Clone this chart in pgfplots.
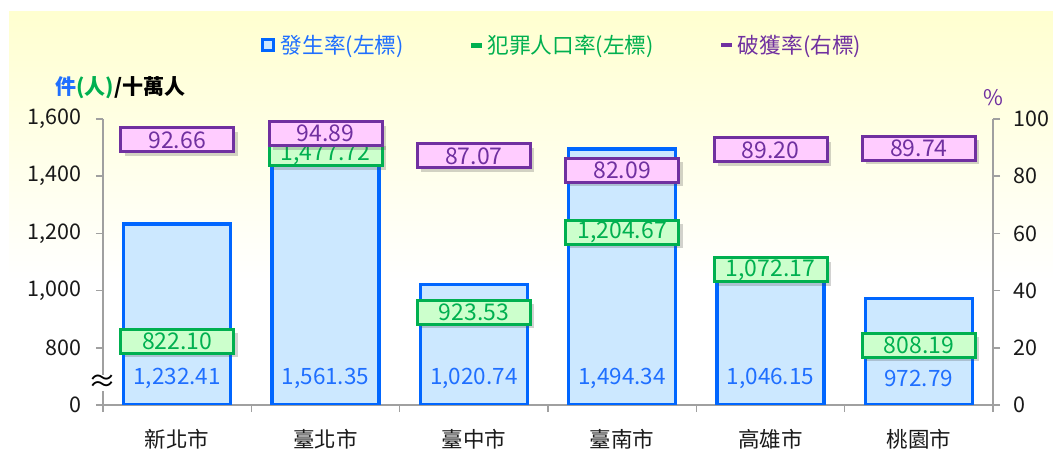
\documentclass[border=0pt]{standalone}
\usepackage{fontspec}
\setmainfont{Noto Sans CJK TC}
\usepackage{pgfplots}
\usepackage{pgfplotstable}
\pgfplotsset{compat=1.18}
\usetikzlibrary{shadows}
\definecolor{barblue}{HTML}{0066FF}
\definecolor{barfill}{HTML}{CCE8FF}
\definecolor{grn}{HTML}{00B050}
\definecolor{grnfill}{HTML}{CCFFCC}
\definecolor{pur}{HTML}{7030A0}
\definecolor{purfill}{HTML}{FFCCFF}
\definecolor{axgray}{HTML}{A0A0A0}
\definecolor{bgyellow}{HTML}{FFFFD0}
\definecolor{lblblue}{HTML}{1F6FFF}

\pgfplotstableread{
x rate crim clear lpos
0 1232.41 822.10 92.66 694
1 1561.35 1477.72 94.89 694
2 1020.74 923.53 87.07 694
3 1494.34 1204.67 82.09 694
4 1046.15 1072.17 89.20 694
5 972.79 808.19 89.74 694
}\data

\newcommand{\fs}{\fontsize{21.5bp}{25bp}\selectfont}
\pgfplotsset{
  numlbl/.style={
    nodes near coords={\pgfmathprintnumber[fixed, fixed zerofill, precision=2, 1000 sep={,}, assume math mode=true]{\pgfplotspointmeta}},
  },
  boxlbl/.style 2 args={
    every node near coord/.append style={anchor=center, draw=#1, fill=#2, line width=3bp,
      minimum width=113bp, minimum height=24bp, inner sep=0pt, text=#1,
      font=\fontsize{23bp}{24bp}\selectfont,
      drop shadow={shadow xshift=4bp, shadow yshift=-4bp, opacity=0.25, fill=black!70}},
  },
}

\begin{document}
\begin{tikzpicture}
\path[use as bounding box] (0,0) rectangle (1053bp,450bp);
\shade[top color=bgyellow, bottom color=white] (9bp,170bp) rectangle (1053bp,438bp);
\begin{axis}[
  at={(103bp,45bp)}, anchor=south west, scale only axis,
  width=890bp, height=286bp,
  xmin=-0.5, xmax=5.5, ymin=600, ymax=1600,
  axis x line*=bottom, axis y line*=left,
  axis line style={draw=axgray, line width=1.5bp},
  xtick={0,...,5},
  xticklabels={新北市,臺北市,臺中市,臺南市,高雄市,桃園市},
  major x tick style={draw=none},
  minor xtick={-0.5,0.5,...,5.5},
  ytick={600,800,1000,1200,1400,1600},
  yticklabels={0,800,{1,000},{1,200},{1,400},{1,600}},
  tick align=outside,
  major tick length=7bp, minor tick length=7bp,
  tick style={axgray, line width=1.5bp},
  tick label style={font=\fs, text=black!90},
  xticklabel style={yshift=-14bp},
  yticklabel style={xshift=-11bp},
]
\addplot[ybar, bar width=107bp, bar shift=0pt, draw=barblue, fill=barfill, line width=3.5bp]
  table[x=x, y=rate] {\data};
\addplot[draw=none, mark=none, numlbl, point meta=\thisrow{rate},
  every node near coord/.append style={anchor=center, text=lblblue, font=\fontsize{22.5bp}{24bp}\selectfont}]
  table[x=x, y=lpos] {\data};
\addplot[draw=none, mark=none, numlbl, point meta=\thisrow{crim}, boxlbl={grn}{grnfill}]
  table[x=x, y=crim] {\data};
\end{axis}
\begin{axis}[
  at={(103bp,45bp)}, anchor=south west, scale only axis,
  width=890bp, height=286bp,
  xmin=-0.5, xmax=5.5, ymin=0, ymax=100,
  axis x line=none, axis y line*=right,
  axis line style={draw=axgray, line width=1.5bp},
  ytick={0,20,40,60,80,100},
  yticklabels={0,20,40,60,80,100},
  tick align=outside,
  major tick length=7bp,
  tick style={axgray, line width=1.5bp},
  tick label style={font=\fs, text=black!90},
  yticklabel style={xshift=10bp},
  legend style={at={(0.516,1.259)}, anchor=center, draw=none, fill=none,
    font=\fontsize{21.7bp}{25bp}\selectfont, legend columns=3,
    /tikz/every even column/.append style={column sep=65bp},
    /tikz/every odd column/.append style={column sep=4bp}},
  legend cell align=left,
]
\addlegendimage{legend image code/.code={\draw[barblue, fill=barfill, line width=2.5bp] (0bp,-5.5bp) rectangle (11bp,5.5bp);}}
\addlegendimage{legend image code/.code={\fill[grn] (0bp,-2bp) rectangle (10bp,2bp);}}
\addplot[draw=none, mark=none, numlbl, point meta=\thisrow{clear}, boxlbl={pur}{purfill},
  legend image code/.code={\fill[pur] (0bp,-2bp) rectangle (11bp,2bp);}]
  table[x=x, y=clear] {\data};
\legend{\textcolor{lblblue}{發生率(左標)},\textcolor{grn}{犯罪人口率(左標)},\textcolor{pur}{破獲率(右標)}}
\end{axis}
\node[anchor=west, font=\bfseries\fontsize{21bp}{25bp}\selectfont] at (52bp,362bp) {\textcolor{lblblue}{件}\textcolor{grn}{(人)}/十萬人};
\node[text=pur, font=\fs] at (993bp,352bp) {\%};
\node[fill=white, inner sep=0pt, font=\fontsize{28bp}{28bp}\selectfont] at (102bp,67bp) {≈};
\end{tikzpicture}
\end{document}
